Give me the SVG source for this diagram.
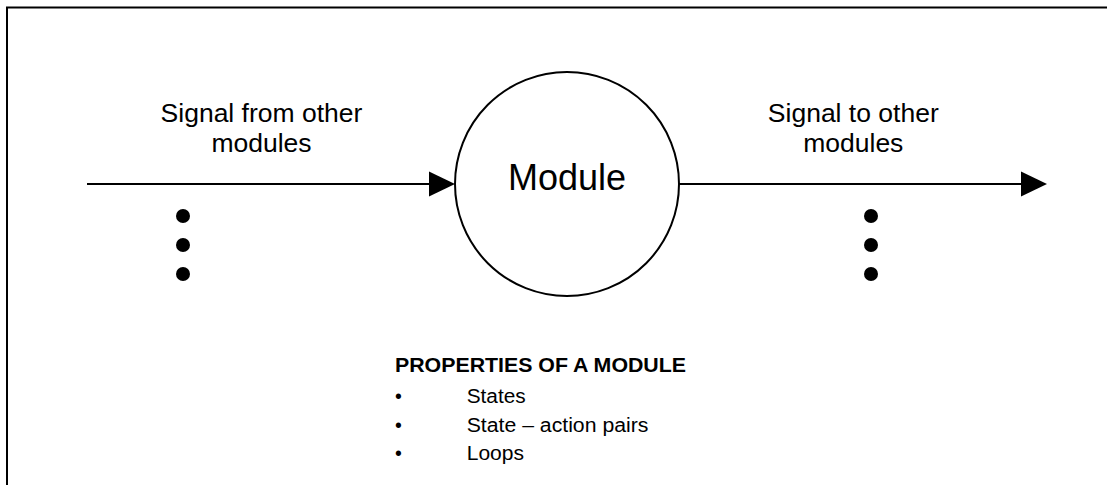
<svg xmlns="http://www.w3.org/2000/svg" width="1107" height="485" viewBox="0 0 1107 485">
<style>
text{font-family:"Liberation Sans",Arial,sans-serif;fill:#000}
.lbl{font-size:26.5px;text-anchor:middle}
.prop{font-size:19.5px}
.line{stroke:#000;stroke-width:2;fill:none}
.dot{fill:#000}
</style>
<rect x="0" y="0" width="1107" height="485" fill="#fff"/>
<rect id="frame" x="7" y="7.5" width="1120" height="500" fill="none" stroke="#000" stroke-width="2"/>
<g id="connectors">
<line class="line" x1="87" y1="184" x2="431" y2="184"/>
<polygon points="429,171.5 455,184 429,196.5" fill="#000"/>
<line class="line" x1="679" y1="184" x2="1023" y2="184"/>
<polygon points="1021,171.5 1047,184 1021,196.5" fill="#000"/>
</g>
<g id="module">
<circle cx="567" cy="184" r="112" fill="#fff" stroke="#000" stroke-width="2"/>
<text x="567" y="189.5" font-size="36" text-anchor="middle">Module</text>
</g>
<g id="input-label">
<text class="lbl" x="261.5" y="122.3">Signal from other</text>
<text class="lbl" x="261.5" y="151.7">modules</text>
</g>
<g id="output-label">
<text class="lbl" x="853.3" y="122.3">Signal to other</text>
<text class="lbl" x="853.3" y="151.7">modules</text>
</g>
<g id="input-dots">
<circle class="dot" cx="183" cy="216" r="7"/>
<circle class="dot" cx="183" cy="245" r="7"/>
<circle class="dot" cx="183" cy="274" r="7"/>
</g>
<g id="output-dots">
<circle class="dot" cx="871" cy="216" r="7"/>
<circle class="dot" cx="871" cy="245" r="7"/>
<circle class="dot" cx="871" cy="274" r="7"/>
</g>
<g id="properties">
<text x="395" y="371.7" font-size="19.5" font-weight="bold" textLength="291" lengthAdjust="spacingAndGlyphs">PROPERTIES OF A MODULE</text>
<text class="prop" x="395" y="403">•</text>
<text class="prop" x="395" y="431.7">•</text>
<text class="prop" x="395" y="460">•</text>
<text class="prop" x="466.7" y="403" textLength="59" lengthAdjust="spacingAndGlyphs">States</text>
<text class="prop" x="466.7" y="431.7" textLength="181.7" lengthAdjust="spacingAndGlyphs">State – action pairs</text>
<text class="prop" x="466.7" y="460" textLength="57.3" lengthAdjust="spacingAndGlyphs">Loops</text>
</g>
</svg>
